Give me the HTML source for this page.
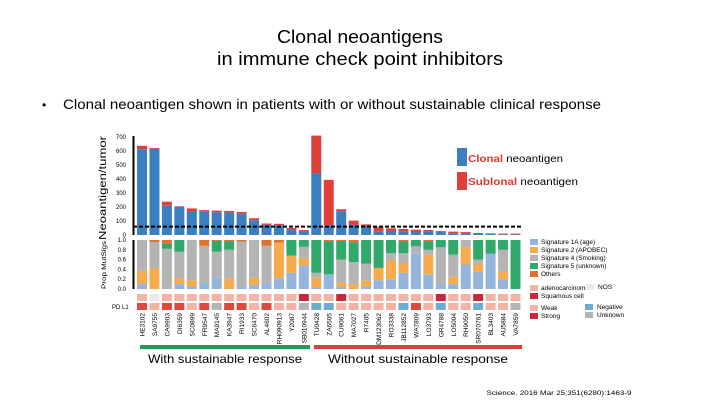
<!DOCTYPE html>
<html><head><meta charset="utf-8"><style>
body{margin:0;background:#fff;}
svg{display:block;font-family:"Liberation Sans",sans-serif;}
</style></head><body>
<svg id="c" width="720" height="405" viewBox="0 0 720 405">
<text x="360" y="43" font-size="18" text-anchor="middle" textLength="166" lengthAdjust="spacingAndGlyphs">Clonal neoantigens</text>
<text x="360" y="65" font-size="18" text-anchor="middle" textLength="286" lengthAdjust="spacingAndGlyphs">in immune check point inhibitors</text>
<text x="42" y="109" font-size="12">•</text>
<text x="63" y="109" font-size="14" textLength="538" lengthAdjust="spacingAndGlyphs">Clonal neoantigen shown in patients  with or without sustainable clinical response</text>
<g id="axes"></g>
<g id="marks"></g>
<text transform="translate(106,188) rotate(-90)" font-size="10" text-anchor="middle" textLength="104" lengthAdjust="spacingAndGlyphs">Neoantigen/tumor</text>
<text transform="translate(106,265) rotate(-90)" font-size="6.5" text-anchor="middle" textLength="48" lengthAdjust="spacingAndGlyphs">Prop MutSigs</text>
<text x="112" y="309" font-size="6">PD L1</text>
<rect x="457" y="148" width="10" height="18" fill="#3a80c1"/>
<text x="468" y="162" font-size="10" textLength="95" lengthAdjust="spacingAndGlyphs"><tspan fill="#d93a32" font-weight="bold">Clonal</tspan> neoantigen</text>
<rect x="457" y="172" width="10" height="18" fill="#e0403a"/>
<text x="468" y="185" font-size="10" textLength="110" lengthAdjust="spacingAndGlyphs"><tspan fill="#d93a32" font-weight="bold">Sublonal</tspan> neoantigen</text>
<g font-size="6.5">
<rect x="530" y="239" width="8" height="6" fill="#95b5dd"/><text x="541" y="244">Signature 1A (age)</text>
<rect x="530" y="247" width="8" height="6" fill="#f6ab4c"/><text x="541" y="252">Signature 2 (APOBEC)</text>
<rect x="530" y="255" width="8" height="6" fill="#b4b4b4"/><text x="541" y="260">Signature 4 (Smoking)</text>
<rect x="530" y="263" width="8" height="6" fill="#31a96a"/><text x="541" y="268">Signature 5 (unknown)</text>
<rect x="530" y="271" width="8" height="6" fill="#dd7330"/><text x="541" y="276">Others</text>
<rect x="530" y="285" width="8" height="6" fill="#f5b3a3"/><text x="541" y="290">adenocarcinoma</text>
<rect x="586" y="284" width="8" height="6" fill="#eaeaea"/><text x="598" y="289">NOS</text>
<rect x="530" y="293" width="8" height="6" fill="#c9283a"/><text x="541" y="298">Squamous cell</text>
<rect x="530" y="305" width="8" height="6" fill="#f5b3a3"/><text x="541" y="310">Weak</text>
<rect x="530" y="313" width="8" height="6" fill="#c9283a"/><text x="541" y="318">Strong</text>
<rect x="585" y="304" width="8" height="6" fill="#6aaed6"/><text x="597" y="309">Negative</text>
<rect x="585" y="312" width="8" height="6" fill="#b4b4b4"/><text x="597" y="317">Unknown</text>
</g>
<rect x="140" y="345" width="170" height="4" fill="#1f9b5a"/>
<rect x="314" y="345" width="208" height="4" fill="#d9403a"/>
<text x="225" y="363" font-size="12" text-anchor="middle" textLength="154" lengthAdjust="spacingAndGlyphs">With sustainable response</text>
<text x="418" y="363" font-size="12" text-anchor="middle" textLength="180" lengthAdjust="spacingAndGlyphs">Without sustainable response</text>
<text x="559" y="395" font-size="6.5" text-anchor="middle" textLength="145" lengthAdjust="spacingAndGlyphs">Science. 2016 Mar 25;351(6280):1463-9</text>
</svg>
<script>
const patients=["HE3102","SA9755","CA9903","DI6359","SC0899","FR9547","MA9145","KA3947","RI1933","SC6470","AL4602","RH090913","Y2087","SB010944","TU0428","ZA6505","CU9061","MA7027","R7405","DM123062","RO3338","JB112852","WA7809","LO3793","GR4788","LO5004","RH9050","SR070761","BL3403","AU5884","VA7859"];
const clonal=[613,615,210,200,165,170,162,160,152,105,72,70,40,22,440,70,170,72,60,24,29,24,21,24,23,12,12,7,6,4,3];
const totalNeo=[637,622,238,205,190,178,174,172,165,120,82,80,50,35,710,394,184,103,76,55,48,43,38,36,29,24,21,14,12,10,10];
const sigAge=[0.1,0,0,0.1,0.05,0.12,0.23,0,0.05,0.08,0.12,0.22,0.33,0.48,0.03,0.3,0.05,0,0.05,0.18,0.2,0.33,0.73,0.3,0.1,0.1,0.5,0.35,0.72,0.2,0];
const sigApobec=[0.27,0.42,0,0.12,0.13,0,0,0.22,0,0.15,0,0.73,0.35,0.15,0.2,0,0.08,0.1,0.12,0.25,0.38,0.2,0,0.4,0,0.15,0.35,0.15,0,0.15,0];
const sigSmoking=[0.63,0.54,0.82,0.54,0.82,0.76,0.53,0.58,0.92,0.77,0.76,0,0,0.23,0.1,0,0.47,0.45,0.35,0,0.15,0.2,0.14,0.1,0.75,0.45,0.15,0.1,0,0.45,0];
const sigUnknown=[0,0,0.1,0.24,0,0,0.22,0.17,0,0,0,0,0.32,0.14,0.67,0.67,0.38,0.4,0.48,0.57,0.27,0.24,0.13,0.17,0.15,0.3,0,0.4,0.28,0.2,1];
const sigOther=[0,0.04,0.08,0,0,0.12,0.02,0.03,0.03,0,0.12,0.05,0,0,0,0.03,0.02,0.05,0,0,0,0.03,0,0.03,0,0,0,0,0,0,0];
const histology=["A","N","A","A","A","A","A","A","A","A","A","A","A","S","A","A","S","A","A","A","A","A","A","A","S","A","A","S","A","A","A"];
const pdl1=["S","W","S","S","W","S","U","S","S","W","S","W","W","U","N","N","W","W","W","W","W","N","S","W","N","W","W","N","W","W","U"];
const topTicks=[0,100,200,300,400,500,600,700];
const sigTicks=[0,0.2,0.4,0.6,0.8,1.0];
const threshold=60;

const NS="http://www.w3.org/2000/svg";
const axes=document.getElementById('axes'),marks=document.getElementById('marks');
function el(tag,attrs,parent){const e=document.createElementNS(NS,tag);for(const k in attrs)e.setAttribute(k,attrs[k]);parent.appendChild(e);return e;}
const x0=142,step=12.45,bw=10;
const xc=i=>x0+i*step;
const yTop=v=>235-v*(98/700);
const ySig=v=>289-v*49;

let a=el('line',{x1:133.5,y1:136,x2:133.5,y2:235,stroke:'#000','stroke-width':2},axes);

topTicks.forEach(t=>{const tx=el('text',{x:126,y:yTop(t)+2,'font-size':6,'text-anchor':'end'},axes);tx.textContent=t;
});
a=el('line',{x1:133.5,y1:240,x2:133.5,y2:289,stroke:'#000','stroke-width':2},axes);

sigTicks.forEach(t=>{const tx=el('text',{x:126,y:ySig(t)+2,'font-size':6,'text-anchor':'end'},axes);tx.textContent=t.toFixed(1);
});

patients.forEach((p,i)=>{
  const x=xc(i)-bw/2;
  let r=el('rect',{x:x,y:yTop(totalNeo[i]),width:bw,height:yTop(clonal[i])-yTop(totalNeo[i]),fill:'#e0403a'},marks);
  
  r=el('rect',{x:x,y:yTop(clonal[i]),width:bw,height:235-yTop(clonal[i]),fill:'#3a80c1'},marks);
  
  let base=0;
  [[sigAge,'#95b5dd'],[sigApobec,'#f6ab4c'],[sigSmoking,'#b4b4b4'],[sigUnknown,'#31a96a'],[sigOther,'#dd7330']].forEach(([arr,c])=>{
    const v=arr[i];if(v<=0)return;
    const s=el('rect',{x:x,y:ySig(base+v),width:bw,height:v*49,fill:c},marks);
    
    base+=v;
  });
  const hc={A:'#f5b3a3',S:'#c9283a',N:'#eaeaea'}[histology[i]];
  r=el('rect',{x:x,y:294,width:bw,height:7,fill:hc},marks);
  
  const pc={W:'#f5b3a3',S:'#e2473b',N:'#6aaed6',U:'#b4b4b4'}[pdl1[i]];
  r=el('rect',{x:x,y:303,width:bw,height:7,fill:pc},marks);
  
  const t=el('text',{transform:`translate(${xc(i)+2.5},313) rotate(-90)`,'font-size':6.5,'text-anchor':'end'},marks);
  t.textContent=p;
  
});
const d=el('line',{x1:133,y1:yTop(threshold),x2:522,y2:yTop(threshold),stroke:'#000','stroke-width':2,'stroke-dasharray':'4,2'},marks);

</script>
</body></html>
